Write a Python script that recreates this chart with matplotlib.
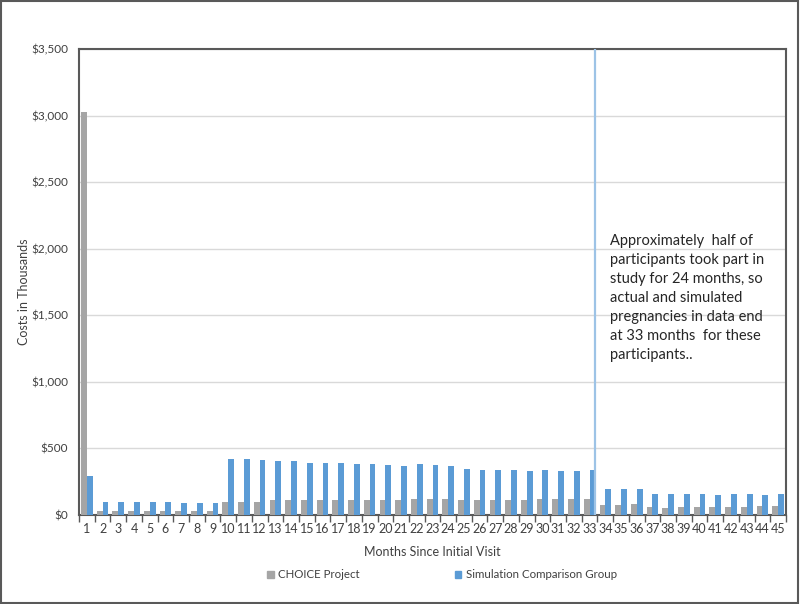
import matplotlib
matplotlib.use('Agg')
import matplotlib.pyplot as plt
import matplotlib.patches as mpatches
import numpy as np

plt.rcParams['font.family'] = ['Lato', 'DejaVu Sans']

months = list(range(1, 46))
choice = [3030, 28, 28, 28, 28, 28, 28, 28, 30,
          101, 101, 101, 109, 109, 109, 109, 109, 109, 114, 114,
          114, 121, 121, 121, 114, 114, 114, 114, 114, 121, 121, 121, 121,
          78, 78, 86, 63, 56, 63, 63, 63, 63, 63, 71, 71]
simulation = [290, 95, 95, 95, 95, 95, 88, 88, 88,
              417, 419, 412, 404, 404, 391, 391, 389, 381, 381, 374,
              366, 381, 374, 366, 343, 336, 336, 336, 328, 336, 328, 328, 336,
              194, 194, 194, 159, 159, 159, 159, 152, 159, 159, 152, 159]
y_ticks = [0, 500, 1000, 1500, 2000, 2500, 3000, 3500]
note = ("Approximately  half of\nparticipants took part in\nstudy for 24 months, so\n"
        "actual and simulated\npregnancies in data end\nat 33 months  for these\nparticipants..")

gray = "#a5a5a5"
blue = "#5b9bd5"
frame = "#595959"
text_col = "#404040"

fig = plt.figure(figsize=(8, 6.04), dpi=100)
ax = fig.add_axes([79 / 800, 89 / 604, 707 / 800, 466 / 604])

x = np.array(months)
w = 0.37
ax.bar(x - w / 2, choice, width=w, color=gray, zorder=3, label="CHOICE Project")
ax.bar(x + w / 2, simulation, width=w, color=blue, zorder=3, label="Simulation Comparison Group")

# 33-month cut-off marker and note
ax.axvline(33.36, color="#9dc3e6", linewidth=1.6, zorder=4)
ax.text(34.3, 2110, note, fontsize=10.5, color="#262626", va="top", ha="left",
        linespacing=1.45, zorder=5)

ax.set_xlim(0.5, 45.5)
ax.set_ylim(0, 3500)
ax.set_yticks(y_ticks)
ax.set_yticklabels([f"${v:,}" for v in y_ticks], fontsize=8.5, color=text_col)
ax.yaxis.grid(True, color="#d9d9d9", linewidth=1, zorder=0)
ax.tick_params(axis="y", length=0, pad=8)

ax.set_xticks(months)
ax.set_xticklabels([str(m) for m in months], fontsize=9, color=text_col)
ax.set_xticks(np.arange(0.5, 46, 1), minor=True)
ax.tick_params(axis="x", which="major", length=0, pad=6)
ax.tick_params(axis="x", which="minor", length=5, color=frame, width=1)

for s in ax.spines.values():
    s.set_color(frame)
    s.set_linewidth(1.5)

ax.set_xlabel("Months Since Initial Visit", fontsize=9, color=text_col, labelpad=8)
ax.set_ylabel("Costs in Thousands", fontsize=9, color=text_col)
ax.yaxis.set_label_coords(-0.069, 0.48)

handles = [mpatches.Patch(color=gray), mpatches.Patch(color=blue)]
fig.legend(handles, ["CHOICE Project", "Simulation Comparison Group"],
           loc="center", bbox_to_anchor=(442 / 800, 29 / 604), ncol=2, frameon=False,
           fontsize=8.3, handlelength=0.6, handleheight=0.6, handletextpad=0.4,
           columnspacing=8.2, labelcolor=text_col)

fig.patches.append(mpatches.Rectangle((0.001, 0.001), 0.997, 0.997, transform=fig.transFigure,
                                      fill=False, edgecolor=frame, linewidth=1.5))

fig.savefig("out.png", dpi=100)
